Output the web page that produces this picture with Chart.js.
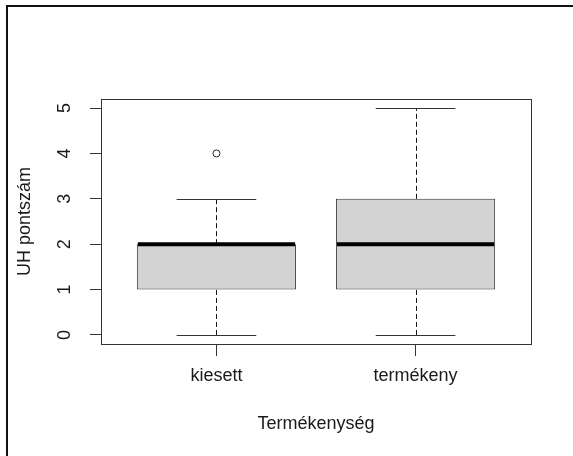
<!DOCTYPE html>
<html>
<head>
<meta charset="utf-8">
<script src="https://cdn.jsdelivr.net/npm/chart.js@4.4.0/dist/chart.umd.min.js"></script>
<style>
  html, body { margin: 0; padding: 0; background: #fff; }
  #wrap { position: relative; width: 573px; height: 456px; }
  #frame { position: absolute; left: 6px; top: 5px; right: 0; bottom: 0;
           border-top: 2px solid #111; border-left: 2px solid #111; pointer-events: none; }
</style>
</head>
<body>
<div id="wrap">
  <canvas id="boxChart"></canvas>
  <div id="frame"></div>
</div>
<script>
const categories = ['kiesett', 'termékeny'];
const whiskerLow = [0, 0];
const q1 = [1, 1];
const median = [2, 2];
const q3 = [2, 3];
const whiskerHigh = [3, 5];
const outliers = [[4], []];
const yTicks = [0, 1, 2, 3, 4, 5];

const FONT = '"Liberation Sans", Arial, sans-serif';
const INK = '#1a1a1a';

// box data as floating bars, x positions 1..n like R
const boxData = categories.map((c, i) => ({ x: i + 1, y: [q1[i], q3[i]] }));
const outlierData = [];
outliers.forEach((list, i) => list.forEach(v => outlierData.push({ x: i + 1, y: v })));

// whiskers, caps, medians, frame and rotated y labels
const boxExtras = {
    id: 'boxExtras',
    afterDatasetsDraw(chart) {
        const ctx = chart.ctx;
        const xs = chart.scales.x;
        const ys = chart.scales.y;
        const area = chart.chartArea;
        ctx.save();
        categories.forEach((c, i) => {
            const cx = Math.round(xs.getPixelForValue(i + 1)) + 0.5;
            const capL = xs.getPixelForValue(i + 1 - 0.2);
            const capR = xs.getPixelForValue(i + 1 + 0.2);
            const boxL = xs.getPixelForValue(i + 1 - 0.4);
            const boxR = xs.getPixelForValue(i + 1 + 0.4);

            // dashed whiskers
            ctx.strokeStyle = '#111';
            ctx.lineWidth = 1;
            ctx.setLineDash([5, 3]);
            ctx.beginPath();
            ctx.moveTo(cx, ys.getPixelForValue(whiskerLow[i]));
            ctx.lineTo(cx, ys.getPixelForValue(q1[i]));
            ctx.moveTo(cx, ys.getPixelForValue(q3[i]));
            ctx.lineTo(cx, ys.getPixelForValue(whiskerHigh[i]));
            ctx.stroke();
            ctx.setLineDash([]);

            // caps
            ctx.strokeStyle = '#333';
            ctx.beginPath();
            [whiskerLow[i], whiskerHigh[i]].forEach(v => {
                const y = Math.round(ys.getPixelForValue(v)) + 0.5;
                ctx.moveTo(capL, y);
                ctx.lineTo(capR, y);
            });
            ctx.stroke();

            // median
            ctx.strokeStyle = '#000';
            ctx.lineWidth = 4;
            ctx.beginPath();
            const my = ys.getPixelForValue(median[i]);
            ctx.moveTo(boxL + 1, my);
            ctx.lineTo(boxR - 1, my);
            ctx.stroke();
        });

        // plot frame
        ctx.strokeStyle = '#333';
        ctx.lineWidth = 1;
        ctx.strokeRect(Math.round(area.left) + 0.5, Math.round(area.top) + 0.5,
            Math.round(area.right - area.left), Math.round(area.bottom - area.top));

        // y tick labels rotated like R
        ctx.fillStyle = INK;
        ctx.font = '18px ' + FONT;
        ctx.textAlign = 'center';
        ctx.textBaseline = 'middle';
        ys.ticks.forEach(t => {
            ctx.save();
            ctx.translate(64, ys.getPixelForValue(t.value));
            ctx.rotate(-Math.PI / 2);
            ctx.fillText(String(t.value), 0, 1);
            ctx.restore();
        });
        ctx.restore();
    }
};

const ctx = document.getElementById('boxChart').getContext('2d');
new Chart(ctx, {
    type: 'bar',
    data: {
        datasets: [{
            label: 'box',
            data: boxData,
            backgroundColor: '#d3d3d3',
            borderColor: '#333',
            borderWidth: 1,
            borderSkipped: false,
            barPercentage: 0.8,
            categoryPercentage: 1
        }, {
            type: 'scatter',
            label: 'outliers',
            data: outlierData,
            pointStyle: 'circle',
            pointRadius: 3.5,
            pointBackgroundColor: '#fff',
            pointBorderColor: '#222',
            pointBorderWidth: 1
        }]
    },
    options: {
        responsive: true,
        maintainAspectRatio: false,
        animation: false,
        events: [],
        layout: { padding: { top: 99, right: 42, left: 0, bottom: 0 } },
        plugins: { legend: { display: false }, tooltip: { enabled: false } },
        scales: {
            x: {
                type: 'linear',
                min: 0.42,
                max: 2.58,
                offset: false,
                afterBuildTicks: s => { s.ticks = categories.map((c, i) => ({ value: i + 1 })); },
                afterFit: s => { s.height = 112; },
                grid: { drawOnChartArea: false, offset: false, tickLength: 12, color: '#333' },
                border: { display: false },
                ticks: {
                    color: INK,
                    font: { size: 18, family: FONT },
                    padding: 9,
                    maxRotation: 0,
                    callback: v => categories[v - 1]
                },
                title: {
                    display: true,
                    text: 'Termékenység',
                    color: INK,
                    font: { size: 18, family: FONT },
                    padding: { top: 0, bottom: 21 }
                }
            },
            y: {
                min: -0.2,
                max: 5.2,
                afterBuildTicks: s => { s.ticks = yTicks.map(v => ({ value: v })); },
                afterFit: s => { s.width = 101; },
                grid: { drawOnChartArea: false, tickLength: 11, color: '#333' },
                border: { display: false },
                ticks: { display: false },
                title: {
                    display: true,
                    text: 'UH pontszám',
                    color: INK,
                    font: { size: 18, family: FONT },
                    padding: { top: 14, bottom: 0 }
                }
            }
        }
    },
    plugins: [boxExtras]
});
</script>
</body>
</html>
